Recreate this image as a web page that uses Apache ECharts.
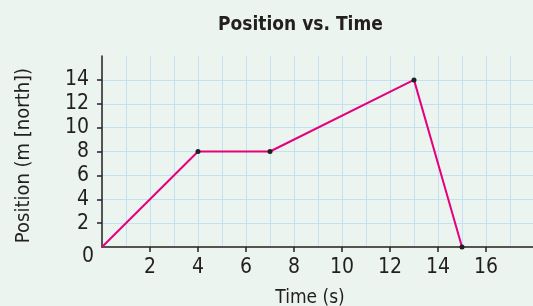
<!DOCTYPE html>
<html>
<head>
    <meta charset="utf-8">
    <title>Position vs. Time</title>
    <script type="text/javascript" src="https://cdn.jsdelivr.net/npm/echarts@6/dist/echarts.min.js"></script>
    <style>
        html, body { margin: 0; padding: 0; background: #ebf4ef; }
    </style>
</head>
<body>
    <div id="chart" style="width: 533px;height:306px;"></div>
<script type="text/javascript">
    // 数据
    var times = [0, 4, 7, 13, 15];
    var positions = [0, 8, 8, 14, 0];
    var xTicks = [2, 4, 6, 8, 10, 12, 14, 16];
    var yTicks = [2, 4, 6, 8, 10, 12, 14];
    var yLabels = [0, 2, 4, 6, 8, 10, 12, 14];

    var font = "'DejaVu Sans Condensed', 'DejaVu Sans', sans-serif";
    var ink = '#231f20';
    var gridColor = '#c2e2f4';

    var points = times.map(function (t, i) {
        var item = { value: [t, positions[i]] };
        if (i === 0) item.symbol = 'none';
        return item;
    });

    var chart = echarts.init(document.getElementById("chart"));
    chart.setOption({
        backgroundColor: '#ebf4ef',
        animation: false,
        title: {
            text: 'Position vs. Time',
            left: 213,
            top: 11,
            textStyle: { fontFamily: font, fontSize: 19, fontWeight: 'bold', color: ink }
        },
        grid: { left: 102, top: 56, width: 432, height: 191, containLabel: false, outerBoundsMode: 'none' },
        xAxis: {
            type: 'value',
            min: 0,
            max: 18,
            interval: 2,
            name: 'Time (s)',
            nameLocation: 'middle',
            nameGap: 42,
            nameTextStyle: { fontFamily: font, fontSize: 19, color: ink, padding: [0, 16, 0, 0] },
            axisLine: { show: true, onZero: false, lineStyle: { color: ink, width: 1.5 } },
            axisTick: { show: true, length: 5, customValues: xTicks, lineStyle: { color: ink, width: 1.5 } },
            axisLabel: { customValues: xTicks, margin: 10, fontFamily: font, fontSize: 21, color: ink },
            splitLine: { show: true, lineStyle: { color: gridColor, width: 1 } },
            minorTick: { show: false, splitNumber: 2 },
            minorSplitLine: { show: true, lineStyle: { color: gridColor, width: 1 } }
        },
        yAxis: {
            type: 'value',
            min: 0,
            max: 16,
            interval: 2,
            name: 'Position (m [north])',
            nameLocation: 'middle',
            nameGap: 68,
            nameTextStyle: { fontFamily: font, fontSize: 20, color: ink, padding: [0, 8, 0, 0] },
            axisLine: { show: true, lineStyle: { color: ink, width: 1.5 } },
            axisTick: { show: true, length: 5, customValues: yTicks, lineStyle: { color: ink, width: 1.5 } },
            axisLabel: {
                customValues: yLabels,
                margin: 8,
                fontFamily: font,
                fontSize: 21,
                color: ink,
                formatter: function (v) {
                    return v === 0 ? '{z|0}' : '{n|' + v + '}';
                },
                rich: {
                    n: { fontFamily: font, fontSize: 21, color: ink, padding: [0, 5, 0, 0] },
                    z: { fontFamily: font, fontSize: 21, color: ink, padding: [20, 0, 0, 0] }
                }
            },
            splitLine: { show: true, lineStyle: { color: gridColor, width: 1 } }
        },
        series: [{
            type: 'line',
            data: points,
            symbol: 'circle',
            symbolSize: 5,
            showSymbol: true,
            lineStyle: { color: '#e6007e', width: 2 },
            itemStyle: { color: '#231f20' },
            z: 5
        }]
    });
</script>
</body>
</html>
